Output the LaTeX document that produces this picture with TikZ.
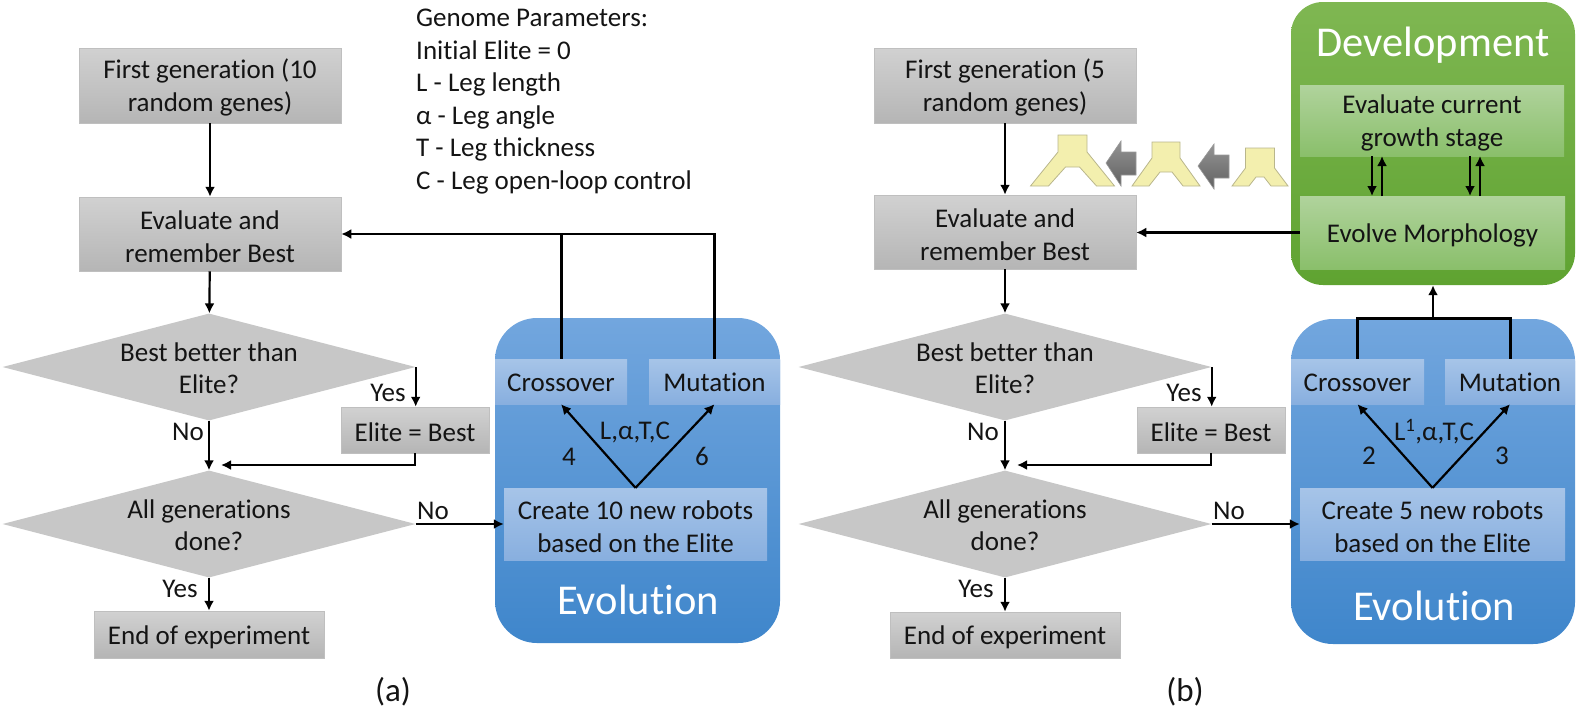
\documentclass[tikz,border=0pt]{standalone}
\usepackage{fontspec}
\setmainfont[Ligatures=NoCommon]{Carlito}
\usetikzlibrary{arrows.meta,shapes.geometric}
\definecolor{ink}{HTML}{141414}
\definecolor{blueTop}{HTML}{72A6DE}
\definecolor{blueBot}{HTML}{3F86CB}
\definecolor{paneBlueTop}{HTML}{A6C4E8}
\definecolor{paneBlueBot}{HTML}{88AFDF}
\definecolor{greenTop}{HTML}{7FB752}
\definecolor{greenBot}{HTML}{5FA331}
\definecolor{paneGreenTop}{HTML}{B0D39C}
\definecolor{paneGreenBot}{HTML}{8ABF6B}
\definecolor{robotfill}{HTML}{F3EFAE}
\definecolor{robotline}{HTML}{B9B68C}
\tikzset{
  every node/.style={text=ink,font=\fontsize{27}{32.4}\selectfont},
  plain/.style={inner sep=0pt,align=center},
  graybox/.style={inner sep=0pt,align=center,top color=black!18,bottom color=black!29,draw=black!25,line width=.5pt},
  decision/.style={diamond,aspect=3.86,inner sep=0pt,fill=black!22,minimum width=413,minimum height=107},
  panelblue/.style={inner sep=0pt,rounded corners=42,top color=blueTop,bottom color=blueBot},
  panelgreen/.style={inner sep=0pt,rounded corners=32,top color=greenTop,bottom color=greenBot},
  paneb/.style={inner sep=0pt,align=center,top color=paneBlueTop,bottom color=paneBlueBot},
  paneg/.style={inner sep=0pt,align=center,top color=paneGreenTop,bottom color=paneGreenBot},
  paneltitle/.style={inner sep=0pt,text=white,font=\fontsize{42.5}{46}\selectfont},
  caption/.style={inner sep=0pt,font=\fontsize{33}{36}\selectfont},
  arr/.style={draw=black,line width=2.2pt,-{Latex[length=10pt,width=10pt]}},
  heavy/.style={draw=black,line width=3pt},
  robot/.style={fill=robotfill,draw=robotline,line width=.8pt},
  stagearrow/.style={top color=black!42,bottom color=black!62,draw=black!40,line width=.6pt}
}
% rectangle node given by its corners: style, name, x1, y1, x2, y2, text
\newcommand{\cornerbox}[7]{%
  \pgfmathsetmacro{\bw}{#5-#3}\pgfmathsetmacro{\bh}{#6-#4}%
  \pgfmathsetmacro{\bx}{(#3+#5)/2}\pgfmathsetmacro{\by}{(#4+#6)/2}%
  \node[#1,minimum width=\bw pt,minimum height=\bh pt] (#2) at (\bx,\by) {\rule{0pt}{24pt}#7};}
% robot silhouette: centre x, top y, torso half width, shoulder y,
% outer foot half width, inner foot half width, arch half width, arch y
\newcommand{\robotshape}[8]{%
  \path[robot] (#1-#3,#2) -- (#1+#3,#2) -- (#1+#3,#4) -- (#1+#5,186) -- (#1+#6,186)
    -- (#1+#7,#8) -- (#1-#7,#8) -- (#1-#6,186) -- (#1-#5,186) -- (#1-#3,#4) -- cycle;}
% grey block arrow pointing left: tip x, head base x, tail x, centre y
\newcommand{\stagearrowshape}[4]{%
  \path[stagearrow] (#1,#4) -- (#2,#4-22) -- (#2,#4-11) -- (#3,#4-11) -- (#3,#4+12) -- (#2,#4+12) -- (#2,#4+23) -- cycle;}
\begin{document}
\begin{tikzpicture}[x=1pt,y=-1pt]
\useasboundingbox (0,0) rectangle (1578,710);

% ---------- flowchart (a) ----------
\cornerbox{graybox}{firstA}{79}{48}{341}{123}{First generation (10\\random genes)}
\cornerbox{graybox}{evalA}{79}{197}{341}{271}{Evaluate and\\remember Best}
\node[decision] (betterA) at (209,367) {};
\node[plain] (betterAtext) at (209,368) {Best better than\\Elite?};
\node[decision] (doneA) at (209,524) {};
\node[plain] (doneAtext) at (209,525) {All generations\\done?};
\cornerbox{graybox}{eliteA}{341}{407}{489}{453}{Elite = Best}
\cornerbox{graybox}{endA}{94}{611}{324}{658}{End of experiment}
\coordinate (mergeA) at (221,465);

\cornerbox{panelblue}{evoA}{495}{318}{780}{643}{}
\cornerbox{paneb}{crossA}{495}{359}{627}{404}{\raisebox{2pt}{Crossover}}
\cornerbox{paneb}{mutA}{649}{359}{780}{404}{\raisebox{2pt}{Mutation}}
\cornerbox{paneb}{createA}{504}{488}{767}{560}{Create 10 new robots\\based on the Elite}
\node[paneltitle] (evoTitleA) at (638,600) {Evolution};

\draw[arr] (firstA) -- (evalA);
\draw[arr] (evalA) -- (betterA);
\draw[arr] (betterA) -- (doneA);
\draw[arr] (betterA.east) -- (betterA.east |- eliteA.north);
\draw[arr] (eliteA.south) |- (mergeA);
\draw[arr] (doneA) -- (endA);
\draw[arr] (doneA.east) -- (doneA.east -| createA.west);
\draw[arr] (createA.north) -- (crossA.south);
\draw[arr] (createA.north) -- (mutA.south);
\draw[heavy] (crossA.north) -- (crossA.north |- evalA.east);
\draw[arr] (mutA.north) |- (evalA.east);

\node[plain] (noA) at (188,432) {No};
\node[plain] (yesA) at (388,393) {Yes};
\node[plain] (noB) at (433,511) {No};
\node[plain] (yesB) at (180,589) {Yes};
\node[plain] (varsA) at (635,432) {L,α,T,C};
\node[plain] (fourA) at (569,457) {4};
\node[plain] (sixA) at (702,456) {6};
\node[caption] (capA) at (393,692) {(a)};

\node[plain,align=left,anchor=north west,font=\fontsize{27}{32.5}\selectfont] (genome) at (416,9)
  {Genome Parameters:\\Initial Elite = 0\\L - Leg length\\α - Leg angle\\T - Leg thickness\\C - Leg open-loop control};

% ---------- flowchart (b) ----------
\cornerbox{graybox}{firstB}{874}{48}{1136}{123}{First generation (5\\random genes)}
\cornerbox{graybox}{evalB}{874}{195}{1136}{269}{Evaluate and\\remember Best}
\node[decision] (betterB) at (1005,367) {};
\node[plain] (betterBtext) at (1005,368) {Best better than\\Elite?};
\node[decision] (doneB) at (1005,524) {};
\node[plain] (doneBtext) at (1005,525) {All generations\\done?};
\cornerbox{graybox}{eliteB}{1137}{407}{1285}{453}{Elite = Best}
\cornerbox{graybox}{endB}{890}{612}{1120}{658}{End of experiment}
\coordinate (mergeB) at (1017,465);

\cornerbox{panelgreen}{devB}{1291}{2}{1575}{285}{}
\node[paneltitle] (devTitle) at (1433,45) {Development};
\cornerbox{paneg}{growB}{1300}{85}{1564}{156}{Evaluate current\\growth stage}
\cornerbox{paneg}{morphB}{1300}{196}{1565}{269}{Evolve Morphology}

\cornerbox{panelblue}{evoB}{1291}{319}{1575}{644}{}
\cornerbox{paneb}{crossB}{1291}{359}{1424}{404}{\raisebox{2pt}{Crossover}}
\cornerbox{paneb}{mutB}{1445}{359}{1575}{404}{\raisebox{2pt}{Mutation}}
\cornerbox{paneb}{createB}{1300}{488}{1565}{560}{Create 5 new robots\\based on the Elite}
\node[paneltitle] (evoTitleB) at (1434,606) {Evolution};

\draw[arr] (firstB) -- (evalB);
\draw[arr] (evalB) -- (betterB);
\draw[arr] (betterB) -- (doneB);
\draw[arr] (betterB.east) -- (betterB.east |- eliteB.north);
\draw[arr] (eliteB.south) |- (mergeB);
\draw[arr] (doneB) -- (endB);
\draw[arr] (doneB.east) -- (doneB.east -| createB.west);
\draw[arr] (createB.north) -- (crossB.south);
\draw[arr] (createB.north) -- (mutB.south);
\draw[heavy] (crossB.north) |- (evoB.north) -| (mutB.north);
\draw[arr] (evoB.north) -- (devB.south);
\draw[arr] (morphB.west) -- (morphB.west -| evalB.east);
\coordinate (growOutA) at (1372,156);
\coordinate (morphInA) at (1372,196);
\coordinate (morphOutA) at (1382,196);
\coordinate (growInA) at (1382,156);
\coordinate (growOutB) at (1470,156);
\coordinate (morphInB) at (1470,196);
\coordinate (morphOutB) at (1480,196);
\coordinate (growInB) at (1480,156);
\draw[arr] (growOutA) -- (morphInA);
\draw[arr] (morphOutA) -- (growInA);
\draw[arr] (growOutB) -- (morphInB);
\draw[arr] (morphOutB) -- (growInB);

\node[plain] (noC) at (983,432) {No};
\node[plain] (yesC) at (1184,393) {Yes};
\node[plain] (noD) at (1229,511) {No};
\node[plain] (yesD) at (976,589) {Yes};
\node[plain] (varsB) at (1434,432) {L\textsuperscript{1},α,T,C};
\node[plain] (twoB) at (1369,456) {2};
\node[plain] (threeB) at (1502,456) {3};
\node[caption] (capB) at (1185,692) {(b)};

% growth stages of the robot body
\robotshape{1072.5}{135}{14.5}{152}{42}{24}{7}{167}
\robotshape{1166}{142}{14}{158}{34}{17}{6}{172}
\robotshape{1260}{148}{14.5}{168}{28}{11}{4}{177}
\stagearrowshape{1106}{1121}{1136}{163}
\stagearrowshape{1198}{1214}{1229}{166}
\end{tikzpicture}
\end{document}
